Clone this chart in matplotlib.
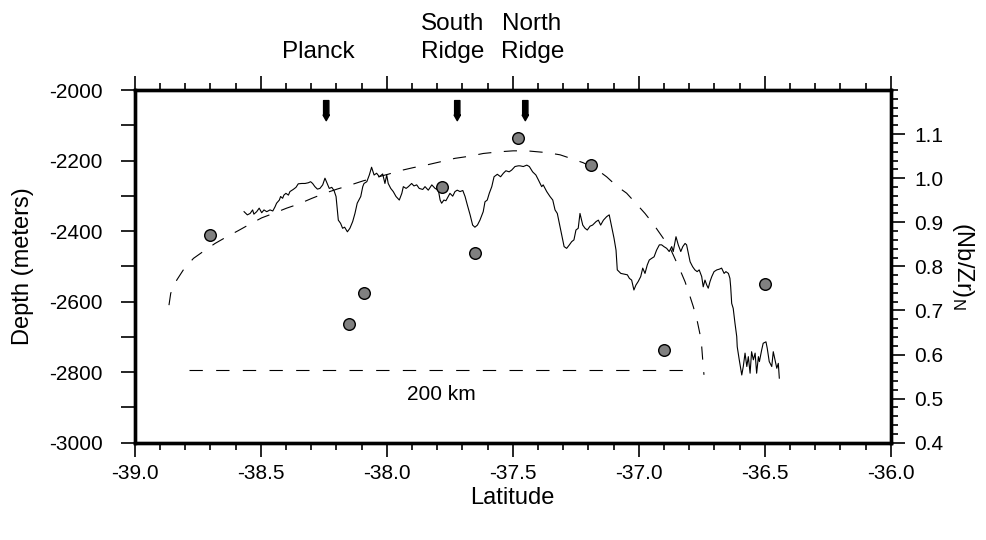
import matplotlib
matplotlib.use("Agg")
import matplotlib.pyplot as plt
from matplotlib.ticker import MultipleLocator, FormatStrFormatter, FixedLocator
import numpy as np

plt.rcParams['font.family'] = ['Liberation Sans', 'DejaVu Sans']
plt.rcParams['axes.unicode_minus'] = False
plt.rcParams['lines.scale_dashes'] = False

# ---- bathymetry profile (latitude, depth in m) ----
profile_lat = [
    -38.566, -38.553, -38.542, -38.532, -38.527, -38.516, -38.506, -38.496, -38.487, -38.476,
    -38.463, -38.452, -38.443, -38.437, -38.426, -38.421, -38.413, -38.408, -38.400, -38.390,
    -38.384, -38.371, -38.360, -38.351, -38.337, -38.324, -38.311, -38.302, -38.294, -38.285,
    -38.275, -38.265, -38.254, -38.245, -38.236, -38.228, -38.218, -38.209, -38.201, -38.196,
    -38.192, -38.183, -38.175, -38.167, -38.156, -38.146, -38.135, -38.126, -38.117, -38.109,
    -38.103, -38.095, -38.090, -38.079, -38.069, -38.060, -38.050, -38.040, -38.029,
    -38.016, -38.007, -38.000, -37.994, -37.984, -37.974, -37.963, -37.950, -37.940, -37.934,
    -37.923, -37.914, -37.901, -37.892, -37.881, -37.871, -37.857, -37.848, -37.835, -37.821,
    -37.808, -37.795, -37.788, -37.782, -37.773, -37.765, -37.756, -37.749, -37.738, -37.729,
    -37.720, -37.709, -37.698, -37.689, -37.680, -37.669, -37.659, -37.650, -37.640, -37.630,
    -37.617, -37.610, -37.601, -37.593, -37.583, -37.574, -37.561, -37.548, -37.537, -37.527,
    -37.514, -37.504, -37.491, -37.478,
    -37.471, -37.458, -37.444, -37.434, -37.421, -37.408, -37.398, -37.385, -37.379, -37.365,
    -37.352, -37.341, -37.332, -37.323, -37.315, -37.306, -37.296, -37.286, -37.275, -37.266,
    -37.257, -37.249, -37.240, -37.233, -37.222, -37.213, -37.204, -37.193, -37.183, -37.169,
    -37.160, -37.151, -37.140, -37.127, -37.117, -37.107, -37.098, -37.090, -37.085, -37.071,
    -37.058, -37.045, -37.037, -37.028, -37.019, -37.011, -37.002, -36.992, -36.984, -36.975,
    -36.966, -36.958, -36.948, -36.939, -36.929, -36.918,
    -36.909, -36.900, -36.889, -36.879, -36.869, -36.863, -36.852, -36.843, -36.833, -36.825,
    -36.816, -36.810, -36.803, -36.796, -36.786, -36.777, -36.768, -36.760, -36.750, -36.744,
    -36.737, -36.730, -36.724, -36.717, -36.710, -36.701, -36.690, -36.680, -36.671, -36.661,
    -36.654, -36.644, -36.638, -36.635, -36.631, -36.625, -36.618, -36.611, -36.609, -36.601,
    -36.591, -36.585, -36.578, -36.571, -36.565, -36.558, -36.552, -36.545, -36.538, -36.532,
    -36.525, -36.521, -36.512, -36.506, -36.495, -36.490, -36.482, -36.472, -36.466, -36.459,
    -36.452, -36.446, -36.442,
]
profile_depth = [
    -2345, -2354, -2350, -2340, -2352, -2345, -2335, -2348, -2340, -2345,
    -2340, -2343, -2331, -2321, -2312, -2302, -2307, -2298, -2293, -2298,
    -2288, -2282, -2276, -2266, -2265, -2265, -2263, -2260, -2265, -2274,
    -2281, -2279, -2269, -2250, -2265, -2279, -2276, -2285, -2302, -2340,
    -2369, -2378, -2392, -2389, -2402, -2392, -2373, -2350, -2321, -2310,
    -2302, -2274, -2265, -2260, -2241, -2219, -2241, -2236, -2246,
    -2238, -2265, -2241, -2265, -2279, -2288, -2302, -2312, -2293, -2274,
    -2279, -2274, -2265, -2272, -2269, -2279, -2282, -2274, -2284, -2269,
    -2279, -2284, -2312, -2321, -2312, -2314, -2302, -2293, -2301, -2288,
    -2284, -2288, -2285, -2302, -2326, -2354, -2383, -2389, -2383, -2369,
    -2345, -2317, -2312, -2293, -2274, -2246, -2239, -2246, -2236, -2229,
    -2232, -2227, -2217, -2215,
    -2215, -2217, -2213, -2217, -2232, -2241, -2255, -2274, -2269, -2288,
    -2302, -2312, -2340, -2350, -2378, -2411, -2444, -2449, -2439, -2430,
    -2425, -2397, -2392, -2350, -2383, -2392, -2397, -2386, -2383, -2373,
    -2369, -2383, -2369, -2359, -2354, -2388, -2420, -2454, -2510, -2520,
    -2522, -2524, -2534, -2539, -2567, -2553, -2543, -2529, -2505, -2520,
    -2496, -2482, -2477, -2473, -2454, -2439,
    -2439, -2444, -2449, -2458, -2444, -2458, -2416, -2439, -2458, -2444,
    -2435, -2439, -2463, -2487, -2501, -2510, -2515, -2510, -2529, -2558,
    -2539, -2553, -2562, -2543, -2529, -2515, -2510, -2508, -2505, -2520,
    -2515, -2520, -2534, -2558, -2605, -2619, -2661, -2699, -2728, -2765,
    -2808, -2784, -2746, -2784, -2756, -2803, -2742, -2765, -2746, -2803,
    -2756, -2770, -2737, -2718, -2714, -2732, -2770, -2784, -2742, -2765,
    -2789, -2775, -2817,
]

# ---- (Nb/Zr)N samples ----
sample_lat = [-38.70, -38.15, -38.09, -37.78, -37.65, -37.48, -37.19, -36.90, -36.50]
sample_nbzr = [0.870, 0.669, 0.739, 0.980, 0.830, 1.090, 1.029, 0.610, 0.759]

# ---- model curve (dashed) ----
model_lat = [
    -38.864, -38.857, -38.833, -38.807, -38.767, -38.725, -38.681, -38.635, -38.589, -38.542,
    -38.496, -38.450, -38.397, -38.351, -38.298, -38.245, -38.198, -38.152, -38.093, -38.040,
    -37.994, -37.947, -37.894, -37.841, -37.788, -37.729, -37.669, -37.617, -37.550, -37.498,
    -37.444, -37.365, -37.312, -37.260, -37.220, -37.167, -37.127, -37.087, -37.048, -37.008,
    -36.975, -36.942, -36.909, -36.875, -36.836, -36.816, -36.796, -36.783, -36.767, -36.756,
    -36.750, -36.746, -36.741,
]
model_nbzr = [
    0.712, 0.739, 0.769, 0.792, 0.818, 0.835, 0.852, 0.867, 0.881, 0.896,
    0.910, 0.920, 0.932, 0.941, 0.954, 0.966, 0.975, 0.983, 0.994, 1.002,
    1.009, 1.017, 1.024, 1.030, 1.037, 1.045, 1.050, 1.056, 1.060, 1.062,
    1.062, 1.058, 1.053, 1.043, 1.035, 1.020, 1.003, 0.982, 0.966, 0.941,
    0.920, 0.896, 0.869, 0.841, 0.792, 0.765, 0.731, 0.708, 0.674, 0.644,
    0.618, 0.588, 0.554,
]

# ---- 200 km scale bar ----
scalebar_lat = [-38.785, -36.82]
scalebar_nbzr = [0.565, 0.565]
scalebar_label = "200 km"

# ---- ridge markers ----
ridge_lat = [-38.24, -37.72, -37.45]
ridge_top = -2030
ridge_bottom = -2087

# ---- right-axis tick labels ----
right_ticks = [0.4, 0.5, 0.6, 0.7, 0.8, 0.9, 1.0, 1.1]

W, H = 987, 540
fig = plt.figure(figsize=(W / 100, H / 100), dpi=100)
L, R, T, B = 134.7, 890.7, 90.0, 442.7
ax = fig.add_axes([L / W, 1 - B / H, (R - L) / W, (B - T) / H])
ax2 = ax.twinx()

ax.set_xlim(-39.0, -36.0)
ax.set_ylim(-3000, -2000)
ax2.set_ylim(0.4, 1.2)

ax.plot(profile_lat, profile_depth, color='black', lw=0.8, zorder=3)

ax2.plot(model_lat, model_nbzr, color='black', lw=0.8, dashes=(9.5, 9.0))
ax2.plot(scalebar_lat, scalebar_nbzr, color='black', lw=0.8, dashes=(9.6, 9.6))
ax2.text(np.mean(scalebar_lat) + 0.02, scalebar_nbzr[0] - 0.055, scalebar_label,
         ha='center', va='center', fontsize=15)
ax2.scatter(sample_lat, sample_nbzr, s=70, facecolor='#808080', edgecolor='black',
            linewidths=1.0, zorder=5)

for lat in ridge_lat:
    ax.annotate('', xy=(lat, ridge_bottom), xytext=(lat, ridge_top),
                arrowprops=dict(arrowstyle='simple,head_length=0.4,head_width=0.45,tail_width=0.38',
                                color='black', shrinkA=0, shrinkB=0, mutation_scale=10),
                zorder=6)

# ticks
ax.xaxis.set_major_locator(MultipleLocator(0.5))
ax.xaxis.set_minor_locator(MultipleLocator(0.1))
ax.xaxis.set_major_formatter(FormatStrFormatter('%.1f'))
ax.yaxis.set_major_locator(MultipleLocator(200))
ax.yaxis.set_minor_locator(MultipleLocator(100))
ax.yaxis.set_major_formatter(FormatStrFormatter('%d'))
ax2.yaxis.set_major_locator(FixedLocator(right_ticks))
ax2.yaxis.set_minor_locator(MultipleLocator(0.02))
ax2.yaxis.set_major_formatter(FormatStrFormatter('%.1f'))

ax.tick_params(axis='x', which='major', direction='out', top=True, bottom=True,
               length=10, width=1.2, labelsize=15, pad=5)
ax.tick_params(axis='x', which='minor', direction='out', top=True, bottom=True,
               length=5, width=1.2)
ax.tick_params(axis='y', which='major', direction='out', left=True, right=False,
               length=10, width=1.2, labelsize=15, pad=13)
ax.tick_params(axis='y', which='minor', direction='out', left=True, right=False,
               length=10, width=1.2)
ax2.tick_params(axis='y', which='major', direction='out', length=10, width=1.2,
                labelsize=15, pad=7)
ax2.tick_params(axis='y', which='minor', direction='out', length=5, width=1.2)

for a in (ax, ax2):
    for sp in a.spines.values():
        sp.set_linewidth(2.4)

ax.set_xlabel('Latitude', fontsize=17, va='center')
ax.xaxis.set_label_coords((512 - L) / (R - L), (B - 498) / (B - T))
ax.set_ylabel('Depth (meters)', fontsize=17, va='center')
ax.yaxis.set_label_coords((23 - L) / (R - L), (B - 266) / (B - T))
ax2.set_ylabel(r'(Nb/Zr)$_\mathregular{N}$', fontsize=17, rotation=270, va='center')
ax2.yaxis.set_label_coords((963 - L) / (R - L), (B - 266) / (B - T))

# labels above
top_labels = [("Planck", 318.5, 58.3), ("South", 452.5, 30.0), ("Ridge", 452.5, 58.3),
              ("North", 532.0, 30.0), ("Ridge", 532.5, 58.3)]
for txt, px, py in top_labels:
    fig.text(px / W, 1 - py / H, txt, ha='center', va='baseline', fontsize=17.5)

fig.savefig('out.png', dpi=100)
